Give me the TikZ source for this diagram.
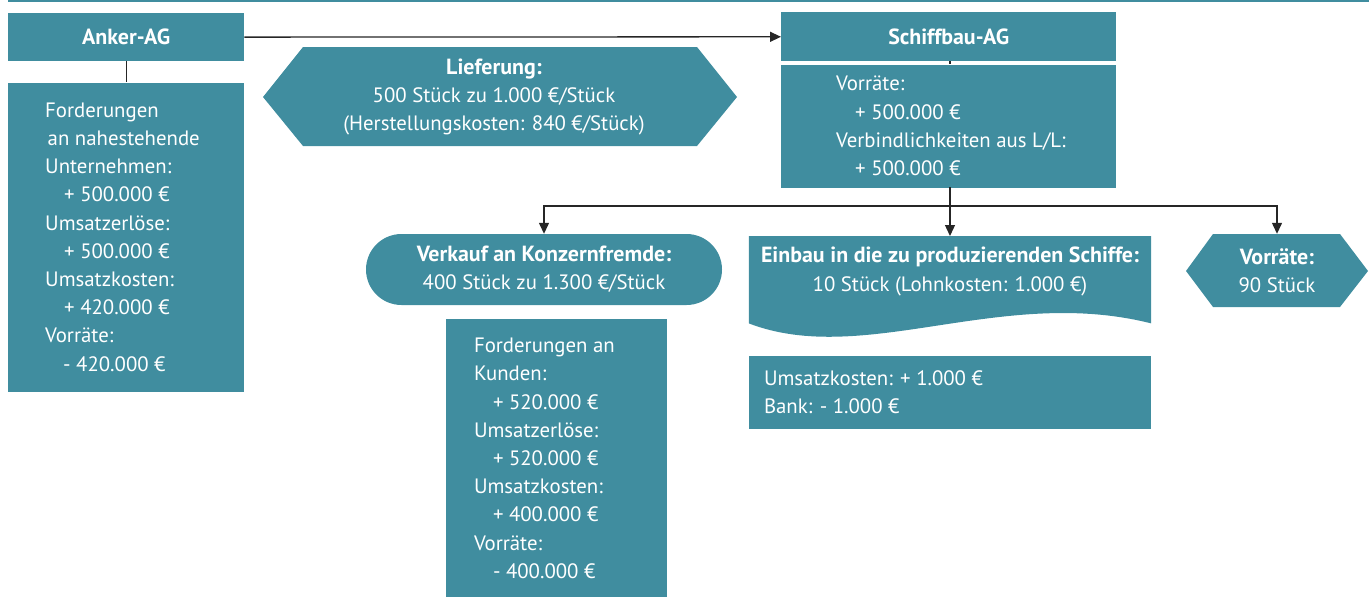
\documentclass[tikz,border=0pt]{standalone}
\usepackage{fontspec}
\setmainfont{PT Sans}[BoldFeatures={Scale=1.055}]
\usepackage{xcolor}
\usepackage{tikz}
\usetikzlibrary{arrows.meta,positioning}
\definecolor{petrol}{RGB}{64,141,159}

\begin{document}
\begin{tikzpicture}[x=1pt, y=-1pt, node distance=21pt,
  every node/.style={font=\fontsize{20.8}{28.2}\selectfont},
  box/.style={fill=petrol, inner sep=0pt},
  schrift/.style={text=white, inner sep=0pt, align=left},
  mitte/.style={text=white, inner sep=0pt, align=center},
  linie/.style={draw=black!85, line width=1.3pt},
  pfeil/.style={linie, -{Triangle[length=11pt,width=10pt]}}]

  \useasboundingbox (0,0) rectangle (1369,597);
  \draw[petrol, line width=2pt] (8,1) -- (1369,1);

  % Anker-AG
  \node[box, anchor=north west, minimum width=236pt, minimum height=48pt, text=white] (anker) at (8,13) {\textbf{Anker-AG}};
  \node[box, below=21pt of anker, minimum width=236pt, minimum height=309pt] (ankerkonto) {};
  \node[schrift, right=37pt of ankerkonto.west] (ankertext) {Forderungen\\\hspace*{2.5pt}an nahestehende\\Unternehmen:\\\hspace*{19pt}+ 500.000 €\\Umsatzerlöse:\\\hspace*{19pt}+ 500.000 €\\Umsatzkosten:\\\hspace*{19pt}+ 420.000 €\\Vorräte:\\\hspace*{18pt}- 420.000 €};

  % Lieferung
  \fill[petrol] (263,97) -- (303,47) -- (697,47) -- (737,97) -- (697,146) -- (303,146) -- cycle;
  \node[mitte] (lieferung) at (494,97) {\textbf{Lieferung:}\\500 Stück zu 1.000 €/Stück\\(Herstellungskosten: 840 €/Stück)};

  % Schiffbau-AG
  \node[box, anchor=north west, minimum width=335pt, minimum height=49pt, text=white] (schiff) at (781,12) {\textbf{Schiffbau-AG}};
  \node[box, below=3pt of schiff, minimum width=335pt, minimum height=123pt] (schiffkonto) {};
  \node[schrift, right=55pt of schiffkonto.west] (schifftext) {Vorräte:\\\hspace*{19pt}+ 500.000 €\\Verbindlichkeiten aus L/L:\\\hspace*{19pt}+ 500.000 €};

  % Verkauf
  \node[box, rounded corners=35.5pt, minimum width=356pt, minimum height=71pt, mitte] (verkauf) at (544,269.5) {\textbf{Verkauf an Konzernfremde:}\\400 Stück zu 1.300 €/Stück};
  \node[box, below=14pt of verkauf, xshift=12.5pt, minimum width=221pt, minimum height=278pt] (verkaufkonto) {};
  \node[schrift, right=28pt of verkaufkonto.west] (verkauftext) {Forderungen an\\Kunden:\\\hspace*{19pt}+ 520.000 €\\Umsatzerlöse:\\\hspace*{19pt}+ 520.000 €\\Umsatzkosten:\\\hspace*{19pt}+ 400.000 €\\Vorräte:\\\hspace*{19pt}- 400.000 €};

  % Einbau
  \node[anchor=north, minimum width=402pt, minimum height=87pt, inner sep=0pt] (einbau) at (950,236) {};
  \fill[petrol] (einbau.north west) -- (einbau.north east) -- (einbau.south east)
    .. controls +(-150,-38) and +(115,44) .. (einbau.south west) -- cycle;
  \node[mitte] (einbautext) at (950,271.5) {\textbf{Einbau in die zu produzierenden Schiffe:}\\10 Stück (Lohnkosten: 1.000 €)};
  \node[box, below=32pt of einbau, minimum width=402pt, minimum height=73pt] (einbaukonto) {};
  \node[schrift, right=15pt of einbaukonto.west] (einbautext2) {Umsatzkosten: + 1.000 €\\Bank: - 1.000 €};

  % Vorraete
  \fill[petrol] (1186,271) -- (1213,234) -- (1340,234) -- (1368,271) -- (1340,307) -- (1213,307) -- cycle;
  \node[mitte, minimum width=182pt, minimum height=73pt] (lager) at (1277,270.5) {\textbf{Vorräte:}\\90 Stück};

  % Verbindungen
  \coordinate (verzweigung) at (950,206);
  \draw[pfeil] (anker) -- (schiff);
  \draw[linie] (anker) -- (ankerkonto);
  \draw[linie] (950,61) -- (950,64);
  \draw[linie] (950,187) -- (verzweigung);
  \draw[pfeil] (verzweigung) -| (verkauf);
  \draw[pfeil] (verzweigung) -- (einbau);
  \draw[pfeil] (verzweigung) -| (lager);
\end{tikzpicture}
\end{document}
